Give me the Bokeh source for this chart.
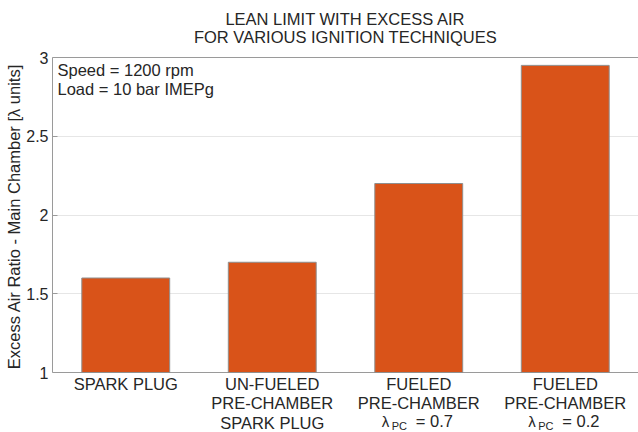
from bokeh.plotting import figure
from bokeh.models import Range1d, FixedTicker, NumeralTickFormatter, Label, Grid
from bokeh.embed import file_html
from bokeh.resources import INLINE

# ---- data -----------------------------------------------------------------
category_lines = [
    ["SPARK PLUG"],
    ["UN-FUELED", "PRE-CHAMBER", "SPARK PLUG"],
    ["FUELED", "PRE-CHAMBER"],
    ["FUELED", "PRE-CHAMBER"],
]
lambda_pc = [None, None, 0.7, 0.2]          # pre-chamber lambda for fueled cases
lean_limit = [1.6, 1.7, 2.2, 2.95]         # main chamber lambda at lean limit
y_ticks = [1, 1.5, 2, 2.5, 3]
title_lines = ["LEAN LIMIT WITH EXCESS AIR", "FOR VARIOUS IGNITION TECHNIQUES"]
note_lines = ["Speed = 1200 rpm", "Load = 10 bar IMEPg"]
y_label = "Excess Air Ratio - Main Chamber [\u03bb units]"

# ---- geometry (canvas pixels) ---------------------------------------------
W, H = 638, 432
LEFT = 52                    # y-axis gutter
BOX_TOP, BOX_BOTTOM = 57, 372
X_LO, X_HI = 0.5, len(lean_limit) + 0.5
Y_LO, Y_HI = y_ticks[0], y_ticks[-1]
PX_PER_Y = (BOX_BOTTOM - BOX_TOP) / (Y_HI - Y_LO)

FONT = "Liberation Sans"
TEXT = "#262626"
EDGE = "#9a9a9a"
BAR = "#D95319"


def data_x(px):
    return X_LO + (px - LEFT) * (X_HI - X_LO) / (W - LEFT)


def data_y(py):
    return Y_LO + (BOX_BOTTOM - py) / PX_PER_Y


# The plotting frame fills the canvas right of the gutter, so the title and
# the category labels can sit in it; the axes box itself is drawn from the
# y-axis (bounded to 1..3) plus solid rules at 1 and 3.
p = figure(
    width=W, height=H,
    x_range=Range1d(X_LO, X_HI),
    y_range=Range1d(data_y(H), data_y(0)),
    x_axis_type=None, title_location=None,
    min_border_left=LEFT, min_border_right=0,
    min_border_top=0, min_border_bottom=0,
    output_backend="svg", toolbar_location=None,
    background_fill_color="white", border_fill_color="white",
)
p.outline_line_color = None

ax = p.yaxis[0]
ax.bounds = (Y_LO, Y_HI)
ax.ticker = FixedTicker(ticks=y_ticks)
ax.formatter = NumeralTickFormatter(format="0.[0]")
ax.major_tick_in = 5
ax.major_tick_out = 0
ax.minor_tick_line_color = None
ax.axis_line_color = EDGE
ax.major_tick_line_color = EDGE
ax.major_label_standoff = 4
ax.major_label_text_font = FONT
ax.major_label_text_font_size = "16px"
ax.major_label_text_color = TEXT
ax.axis_label = y_label
ax.axis_label_standoff = 0
ax.axis_label_text_font = FONT
ax.axis_label_text_font_size = "16.5px"
ax.axis_label_text_font_style = "normal"
ax.axis_label_text_color = TEXT

p.xgrid.grid_line_color = None
p.ygrid.ticker = FixedTicker(ticks=y_ticks[1:-1])
p.ygrid.grid_line_color = "#cccccc"
p.ygrid.grid_line_dash = "1 1"
# top and bottom edges of the axes box
p.add_layout(Grid(dimension=1, ticker=FixedTicker(ticks=[Y_LO, Y_HI]),
                  grid_line_color=EDGE, grid_line_width=1))

xs = list(range(1, len(lean_limit) + 1))
p.vbar(x=xs, top=lean_limit, bottom=Y_LO, width=0.6,
       fill_color=BAR, line_color="#8f8f8f", line_width=1)


def add_text(x, py, text, size="16.5px", align="left", x_offset=0):
    p.add_layout(Label(
        x=x, y=data_y(py), text=text, x_offset=x_offset,
        text_font=FONT, text_font_size=size, text_color=TEXT,
        text_align=align, text_baseline="middle",
    ))


# title
for i, line in enumerate(title_lines):
    add_text((X_LO + X_HI) / 2, 18.5 + 18 * i, line, align="center")

# operating point note
for i, line in enumerate(note_lines):
    add_text(data_x(57), 69.5 + 19 * i, line)

# category labels
for x, lines, lam in zip(xs, category_lines, lambda_pc):
    for j, line in enumerate(lines):
        add_text(x, 383 + 19.5 * j, line, align="center")
    if lam is not None:
        add_text(x, 420.5, "\u03bb", size="15px", x_offset=-37)
        add_text(x, 425.5, "PC", size="11px", x_offset=-27)
        add_text(x, 420, f"= {lam:g}", x_offset=-3)

open("out.html", "w").write(file_html(p, INLINE))
